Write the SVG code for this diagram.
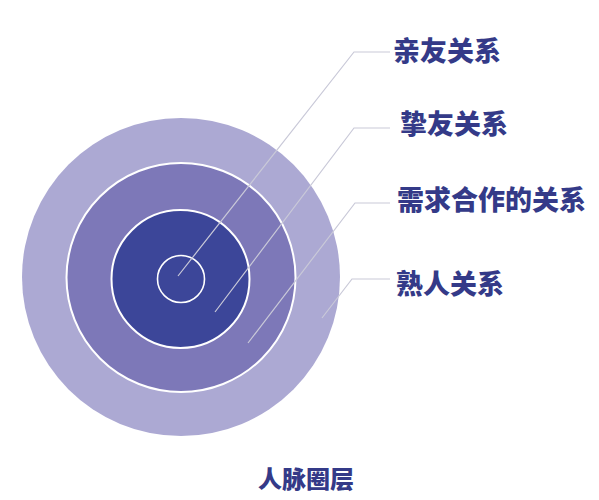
<svg xmlns="http://www.w3.org/2000/svg" width="599" height="500" viewBox="0 0 599 500">
<style>
.lbl{font-family:"Noto Sans CJK SC","Noto Sans",sans-serif;font-weight:900;fill:#343a88;font-size:27px}
.ttl{font-size:24px}
.conn{fill:none;stroke:#c9c9d8;stroke-width:1.2}
</style>
<rect width="599" height="500" fill="#ffffff"/>
<g id="rings">
<circle id="outer" cx="181" cy="277" r="159" fill="#aca9d3"/>
<circle id="middle" cx="181" cy="277.5" r="114.5" fill="#7d78b8" stroke="#ffffff" stroke-width="2"/>
<circle id="inner" cx="180.5" cy="279" r="69" fill="#3c4699" stroke="#ffffff" stroke-width="2"/>
<circle id="core" cx="181" cy="279" r="23.5" fill="none" stroke="#ffffff" stroke-width="1.6"/>
</g>
<g id="connectors">
<polyline class="conn" points="390,52 354,52 178,276"/>
<polyline class="conn" points="390,128 354,128 215,312"/>
<polyline class="conn" points="390,203 355,203 248,343"/>
<polyline class="conn" points="390,279 352,279 322,318"/>
</g>
<g id="label1"><text class="lbl" x="393" y="61">亲友关系</text></g>
<g id="label2"><text class="lbl" x="400" y="134">挚友关系</text></g>
<g id="label3"><text class="lbl" x="397" y="210">需求合作的关系</text></g>
<g id="label4"><text class="lbl" x="396" y="294">熟人关系</text></g>
<g id="title"><text class="lbl ttl" x="258" y="488">人脉圈层</text></g>
</svg>
